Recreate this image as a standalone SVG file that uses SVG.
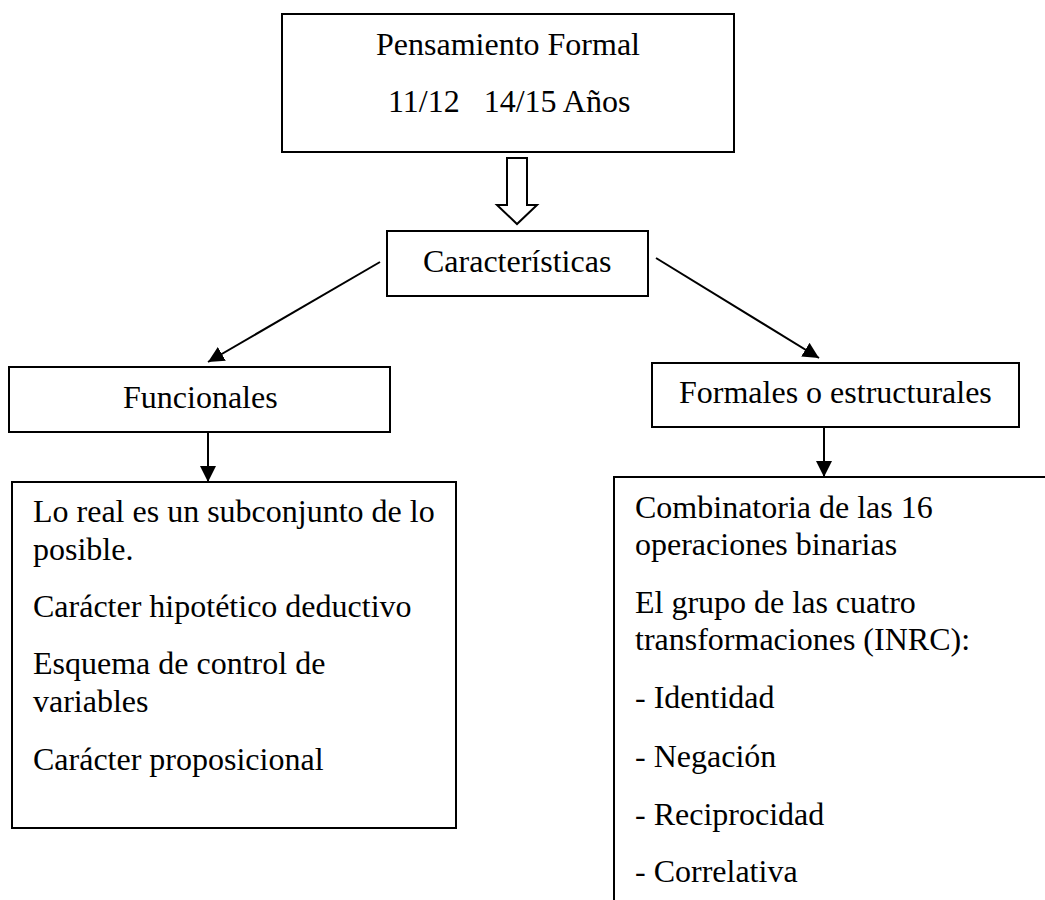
<svg xmlns="http://www.w3.org/2000/svg" width="1045" height="900" viewBox="0 0 1045 900">
  <style>
    .box { fill: #ffffff; stroke: #000000; stroke-width: 2; }
    .t { font-family: "Liberation Serif", "Times New Roman", serif; font-size: 32px; fill: #000000; white-space: pre; }
    .conn { stroke: #000000; stroke-width: 2; fill: none; }
  </style>
  <defs>
    <marker id="ah" viewBox="0 0 16 16" refX="16" refY="8" markerWidth="16" markerHeight="16" markerUnits="userSpaceOnUse" orient="auto">
      <path d="M0,0 L16,8 L0,16 z" fill="#000000"/>
    </marker>
  </defs>
  <rect x="0" y="0" width="1045" height="900" fill="#ffffff"/>

  <g id="connectors">
    <polygon class="box" points="507,158 527,158 527,205 537,205 517,224 497,205 507,205"/>
    <line class="conn" x1="380" y1="262" x2="208" y2="362" marker-end="url(#ah)"/>
    <line class="conn" x1="656" y1="258" x2="819" y2="358" marker-end="url(#ah)"/>
    <line class="conn" x1="208" y1="432" x2="208" y2="482" marker-end="url(#ah)"/>
    <line class="conn" x1="824" y1="427" x2="824" y2="477" marker-end="url(#ah)"/>
  </g>

  <g id="node-pensamiento">
    <rect class="box" x="282" y="14" width="452" height="138"/>
    <text class="t" x="376" y="55">Pensamiento Formal</text>
    <text class="t" x="388" y="112" xml:space="preserve">11/12   14/15 Años</text>
  </g>

  <g id="node-caracteristicas">
    <rect class="box" x="387" y="231" width="261" height="65"/>
    <text class="t" x="423" y="272">Características</text>
  </g>

  <g id="node-funcionales">
    <rect class="box" x="9" y="367" width="381" height="65"/>
    <text class="t" x="123" y="408">Funcionales</text>
  </g>

  <g id="node-formales">
    <rect class="box" x="652" y="363" width="367" height="64"/>
    <text class="t" x="679" y="403">Formales o estructurales</text>
  </g>

  <g id="node-funcionales-list">
    <rect class="box" x="12" y="482" width="444" height="346"/>
    <text class="t" x="33" y="522">Lo real es un subconjunto de lo</text>
    <text class="t" x="33" y="560">posible.</text>
    <text class="t" x="33" y="617">Carácter hipotético deductivo</text>
    <text class="t" x="33" y="674">Esquema de control de</text>
    <text class="t" x="33" y="712">variables</text>
    <text class="t" x="33" y="770">Carácter proposicional</text>
  </g>

  <g id="node-formales-list">
    <path class="box" d="M1047,477 H614 V902"/>
    <text class="t" x="635" y="518">Combinatoria de las 16</text>
    <text class="t" x="635" y="555">operaciones binarias</text>
    <text class="t" x="635" y="613">El grupo de las cuatro</text>
    <text class="t" x="635" y="650">transformaciones (INRC):</text>
    <text class="t" x="635" y="708">- Identidad</text>
    <text class="t" x="635" y="767">- Negación</text>
    <text class="t" x="635" y="825">- Reciprocidad</text>
    <text class="t" x="635" y="882">- Correlativa</text>
  </g>
</svg>
